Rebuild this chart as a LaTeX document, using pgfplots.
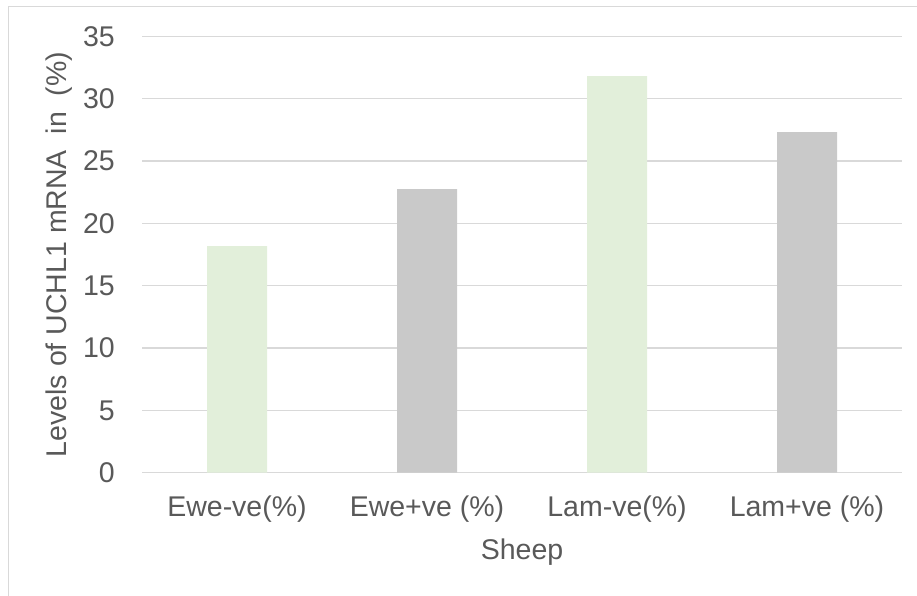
\documentclass[border=0pt]{standalone}
\usepackage{pgfplots}
\pgfplotsset{compat=1.18}
\usepackage{fontspec}
\setmainfont{Liberation Sans}
\definecolor{txt}{HTML}{595959}
\definecolor{gridc}{HTML}{D9D9D9}
\definecolor{bargreen}{HTML}{E2EFDA}
\definecolor{bargray}{HTML}{C9C9C9}
\newcommand{\chartfont}{\fontsize{28.5}{34}\selectfont}
\begin{document}
\chartfont
\begin{tikzpicture}[x=1pt,y=1pt]
\useasboundingbox (0,0) rectangle (917,595);
% chart area frame
\begin{scope}
\clip (0,0) rectangle (917,595);
\draw[gridc, line width=1.4pt] (8.7,-20) rectangle (940,588.3);
\end{scope}
\begin{axis}[
  at={(142pt,122.3pt)}, anchor=south west,
  scale only axis, width=760pt, height=436.4pt,
  xmin=-0.5, xmax=3.5, ymin=0, ymax=35,
  ytick={0,5,...,35},
  xtick={0,1,2,3},
  xticklabels={Ewe-ve(\%), Ewe+ve (\%), Lam-ve(\%), Lam+ve (\%)},
  axis line style={draw=none},
  ymajorgrids, grid style={gridc, line width=1.4pt},
  major tick length=0pt,
  /pgf/number format/assume math mode=true,
  ticklabel style={font=\chartfont, text=txt},
  xticklabel style={anchor=base, yshift=-44pt},
  yticklabel style={anchor=east, inner sep=0pt, xshift=-27pt},
  xlabel={Sheep},
  ylabel={Levels of UCHL1 mRNA\ \ in\ \ (\%)},
  xlabel style={at={(axis description cs:0.5,-0.19775)}, anchor=base, font=\chartfont, text=txt},
  ylabel style={at={(axis description cs:-0.0987,0.5)}, anchor=base, font=\chartfont, text=txt},
]
\addplot[ybar, bar width=60pt, bar shift=0pt, fill=bargreen, draw=none]
  coordinates {(0,18.18) (2,31.81)};
\addplot[ybar, bar width=60pt, bar shift=0pt, fill=bargray, draw=none]
  coordinates {(1,22.75) (3,27.32)};
\end{axis}
\end{tikzpicture}
\end{document}
